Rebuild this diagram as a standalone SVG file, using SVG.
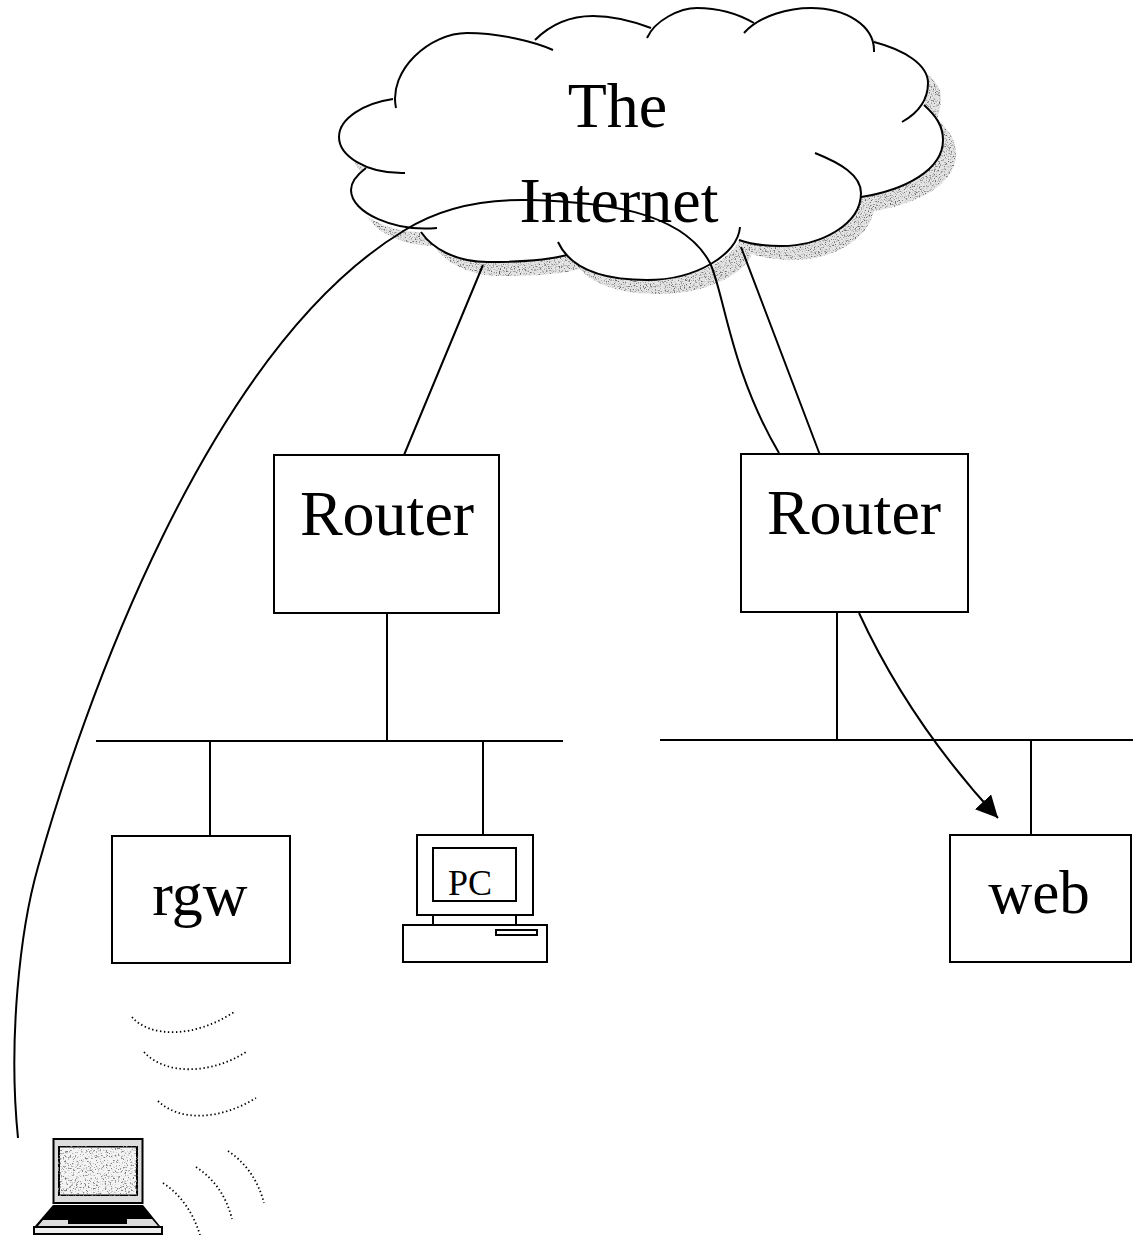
<svg xmlns="http://www.w3.org/2000/svg" width="1133" height="1235" viewBox="0 0 1133 1235">
<style>
text{font-family:"Liberation Serif","Times New Roman",serif;fill:#000}
.l{fill:none;stroke:#000;stroke-width:2}
.b{fill:#fff;stroke:#000;stroke-width:2}
.d{fill:none;stroke:#000;stroke-width:1.8;stroke-dasharray:1.4 2.6}
.big{font-size:64px}
</style>
<defs>
<filter id="stip" x="0" y="0" width="100%" height="100%" color-interpolation-filters="sRGB">
<feTurbulence type="fractalNoise" baseFrequency="0.8" numOctaves="2" seed="4" result="n"/>
<feColorMatrix in="n" type="matrix" values="0 0 0 0 0.4  0 0 0 0 0.4  0 0 0 0 0.4  3 3 0 0 -3.100" result="dots"/>
<feComposite in="dots" in2="SourceAlpha" operator="in" result="cut"/>
<feMerge><feMergeNode in="SourceGraphic"/><feMergeNode in="cut"/></feMerge>
</filter>
<filter id="stip2" x="0" y="0" width="100%" height="100%" color-interpolation-filters="sRGB">
<feTurbulence type="fractalNoise" baseFrequency="0.6" numOctaves="2" seed="9" result="n"/>
<feColorMatrix in="n" type="matrix" values="0 0 0 0 0.5  0 0 0 0 0.5  0 0 0 0 0.5  4 4 0 0 -4.300" result="dots"/>
<feComposite in="dots" in2="SourceAlpha" operator="in" result="cut"/>
<feMerge><feMergeNode in="SourceGraphic"/><feMergeNode in="cut"/></feMerge>
</filter>
<marker id="ah" markerWidth="24" markerHeight="24" refX="22" refY="11" orient="auto" markerUnits="userSpaceOnUse"><path d="M0 0L22 11L0 22Z" fill="#000"/></marker>
<path id="cloud" d="M393 99C396 60 430 33 467 33C495 33 515 38 535 40C550 25 570 16 593 16C615 16 635 22 651 28C662 15 680 8 697 8C720 8 740 15 754 23C770 12 790 8 811 8C840 8 865 22 874 42C905 50 928 65 928 83C928 92 926 100 924 105C935 115 943 125 943 140C943 170 905 190 861 197C855 225 820 246 781 246C765 246 750 244 739 240C730 262 690 280 647 280C610 280 582 272 567 255C545 261 515 262 488 262C455 262 432 248 421 232C385 232 351 213 351 190C351 182 358 174 366 168C348 162 339 150 339 137C339 118 365 103 393 99Z"/>
</defs>
<g id="cloud-node">
<use href="#cloud" transform="translate(13 14)" fill="#e4e4e4" filter="url(#stip)"/>
<use href="#cloud" fill="#fff"/>
<path class="l" d="M396 108C388 70 430 33 467 33C500 33 535 42 553 50"/>
<path class="l" d="M535 40C550 25 570 16 593 16C615 16 635 22 651 28"/>
<path class="l" d="M647 38C655 20 680 8 697 8C720 8 740 15 754 23"/>
<path class="l" d="M744 33C760 15 790 8 811 8C845 8 875 25 874 52"/>
<path class="l" d="M874 42C905 50 928 65 928 83C928 100 918 113 902 122"/>
<path class="l" d="M924 105C935 115 943 125 943 140C943 170 905 190 861 197"/>
<path class="l" d="M815 153C840 163 861 175 861 193C861 225 820 246 781 246C765 246 750 244 739 240"/>
<path class="l" d="M740 227C738 255 695 280 647 280C600 280 570 268 558 242"/>
<path class="l" d="M567 255C545 261 515 262 488 262C455 262 432 248 421 232"/>
<path class="l" d="M437 228C395 232 351 213 351 190C351 182 358 174 366 168"/>
<path class="l" d="M405 173C365 174 339 155 339 137C339 118 365 103 393 99"/>
<text class="big" x="617.500" y="127" text-anchor="middle">The</text>
<text class="big" x="619" y="222" text-anchor="middle">Internet</text>
</g>
<g id="connectors">
<path class="l" d="M483 265L404 455M741 247L820 455M387 613V741M96 741H563M210 741V836M483 741V835M660 740H1133M837 612V740M1031 740V835"/>
<path class="l" d="M18 1138C8 1040 20 930 38 867C80 717 205 350 405 230C445 205 490 199 530 200C600 202 682 210 710 263C724 292 730 370 779 453"/>
<path class="l" d="M859 613C890 680 935 750 998 818" marker-end="url(#ah)"/>
</g>
<g id="router-1"><rect class="b" x="274" y="455" width="225" height="158"/><text class="big" x="387" y="535" text-anchor="middle">Router</text></g>
<g id="router-2"><rect class="b" x="741" y="454" width="227" height="158"/><text class="big" x="854" y="534" text-anchor="middle">Router</text></g>
<g id="rgw"><rect class="b" x="112" y="836" width="178" height="127"/><text x="200" y="915" font-size="62" text-anchor="middle">rgw</text></g>
<g id="web"><rect class="b" x="950" y="835" width="181" height="127"/><text x="1039" y="913" font-size="61" text-anchor="middle">web</text></g>
<g id="pc">
<rect class="b" x="417" y="835" width="116" height="80"/>
<rect class="b" x="433" y="848" width="83" height="53"/>
<text x="470" y="895" font-size="36" text-anchor="middle">PC</text>
<path class="l" d="M433 915V925M516 915V925"/>
<rect class="b" x="403" y="925" width="144" height="37"/>
<rect class="b" x="496" y="930" width="41" height="5"/>
</g>
<g id="laptop">
<rect x="53.500" y="1139" width="89" height="64" fill="#ddd" stroke="#000" stroke-width="2"/>
<rect x="58.500" y="1146" width="79" height="50" fill="#f4f4f4" stroke="#000" stroke-width="3" filter="url(#stip2)"/>
<path d="M53 1205H143L160 1226H35Z" fill="#000"/>
<path d="M43 1220H68V1224H127V1219H152L158 1226H38Z" fill="#ddd"/>
<rect x="34" y="1227" width="128" height="7" fill="#eee" stroke="#000" stroke-width="2"/>
</g>
<g id="signals">
<path class="d" d="M132 1017C150 1038 195 1038 234 1012"/>
<path class="d" d="M144 1052C165 1075 210 1075 246 1052"/>
<path class="d" d="M158 1101C180 1122 220 1120 256 1098"/>
<path class="d" d="M228 1151C245 1162 258 1180 264 1203"/>
<path class="d" d="M196 1167C213 1178 226 1195 232 1219"/>
<path class="d" d="M163 1183C180 1194 193 1212 200 1235"/>
</g>
</svg>
